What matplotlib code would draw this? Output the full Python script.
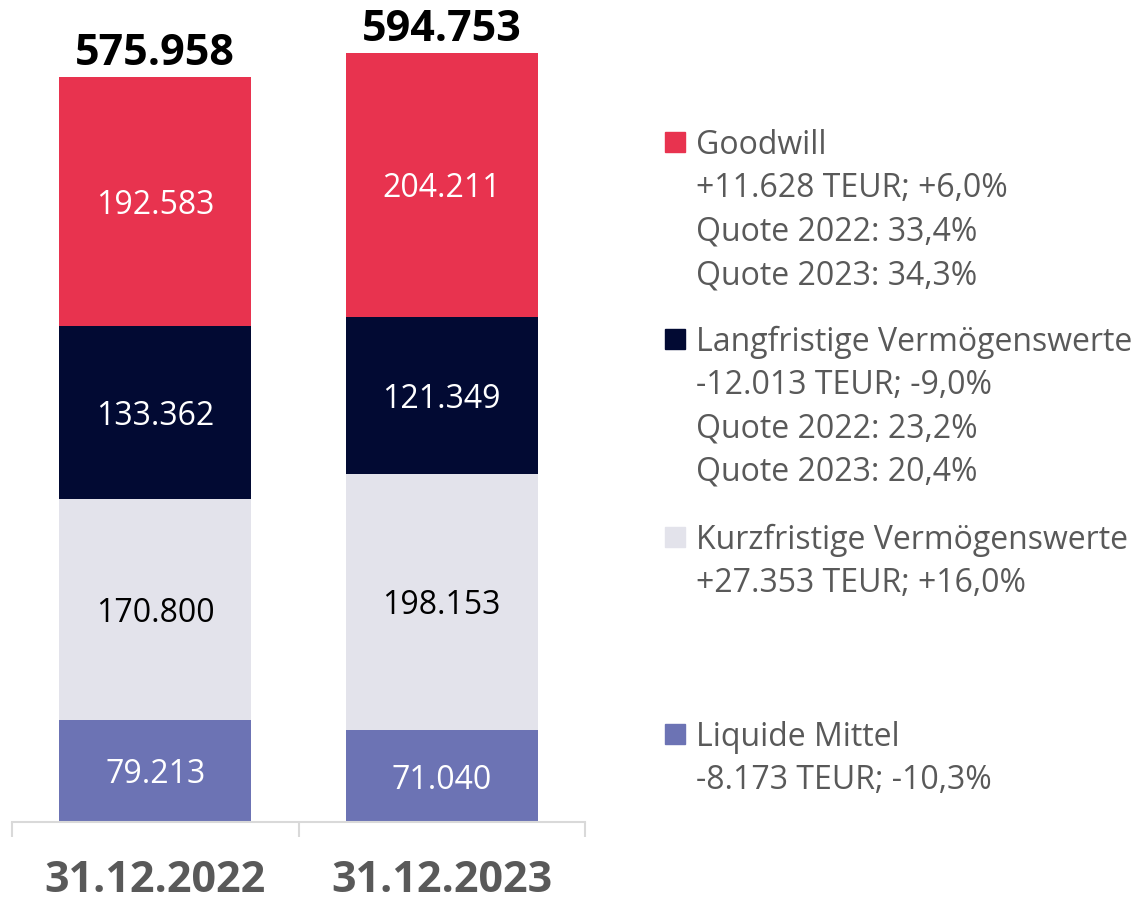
import matplotlib
matplotlib.use("Agg")
import matplotlib.pyplot as plt
import numpy as np

categories = ["31.12.2022", "31.12.2023"]
series_names = ["Liquide Mittel", "Kurzfristige Vermögenswerte", "Langfristige Vermögenswerte", "Goodwill"]
liquide = [79213, 71040]
kurz = [170800, 198153]
lang = [133362, 121349]
goodwill = [192583, 204211]
totals = [575958, 594753]
colors = ["#6C73B4", "#E3E3EB", "#020A33", "#E8334F"]
label_colors = ["white", "black", "white", "white"]

legend_entries = [
    ("Goodwill", ["+11.628 TEUR; +6,0%", "Quote 2022: 33,4%", "Quote 2023: 34,3%"], "#E8334F"),
    ("Langfristige Vermögenswerte", ["-12.013 TEUR; -9,0%", "Quote 2022: 23,2%", "Quote 2023: 20,4%"], "#020A33"),
    ("Kurzfristige Vermögenswerte", ["+27.353 TEUR; +16,0%"], "#E3E3EB"),
    ("Liquide Mittel", ["-8.173 TEUR; -10,3%"], "#6C73B4"),
]

def fmt(v):
    return f"{v:,}".replace(",", ".")

plt.rcParams['font.family'] = ['Open Sans', 'DejaVu Sans']

W, H = 1135, 902
fig = plt.figure(figsize=(W / 100, H / 100), dpi=100)
ax = fig.add_axes([12 / W, (H - 822) / H, (585 - 12) / W, 822 / H])

x = np.arange(len(categories))
width = 0.67
bottom = np.zeros(len(categories))
for vals, col, lc in zip([liquide, kurz, lang, goodwill], colors, label_colors):
    vals = np.array(vals, dtype=float)
    ax.bar(x, vals, width, bottom=bottom, color=col, edgecolor='none', zorder=2)
    for xi, v, b in zip(x, vals, bottom):
        ax.text(xi, b + v / 2, fmt(int(v)), ha='center', va='center_baseline', color=lc, fontsize=23)
    bottom += vals

for xi, t in zip(x, totals):
    ax.text(xi, t + 9300, fmt(t), ha='center', va='baseline', color='black', fontsize=31, fontweight='bold')

ax.set_xlim(-0.5, 1.5)
ax.set_ylim(0, 822 / 1.2935 * 1000)
for s in ['top', 'right', 'left']:
    ax.spines[s].set_visible(False)
ax.spines['bottom'].set_color('#D9D9D9')
ax.spines['bottom'].set_linewidth(1.5)
ax.set_yticks([])
ax.set_xticks(x)
ax.set_xticklabels(categories, fontsize=31, fontweight='bold', color='#595959')
ax.tick_params(axis='x', which='major', length=0, pad=27)
ax.set_xticks([-0.5, 0.5, 1.5], minor=True)
ax.tick_params(axis='x', which='minor', length=11, width=1.5, color='#D9D9D9')

group_tops = [141, 338, 536, 733]
line_gap = 43.5
for (title, lines, col), gy in zip(legend_entries, group_tops):
    fig.patches.append(plt.Rectangle((665 / W, 1 - (gy + 11) / H), 20 / W, 20 / H,
                                     transform=fig.transFigure, color=col, figure=fig))
    fig.text(696 / W, 1 - gy / H, title, ha='left', va='center_baseline', fontsize=23, color='#595959')
    for i, ln in enumerate(lines):
        fig.text(696 / W, 1 - (gy + line_gap * (i + 1)) / H, ln, ha='left', va='center_baseline',
                 fontsize=23, color='#595959')

fig.savefig("out.png", dpi=100)
